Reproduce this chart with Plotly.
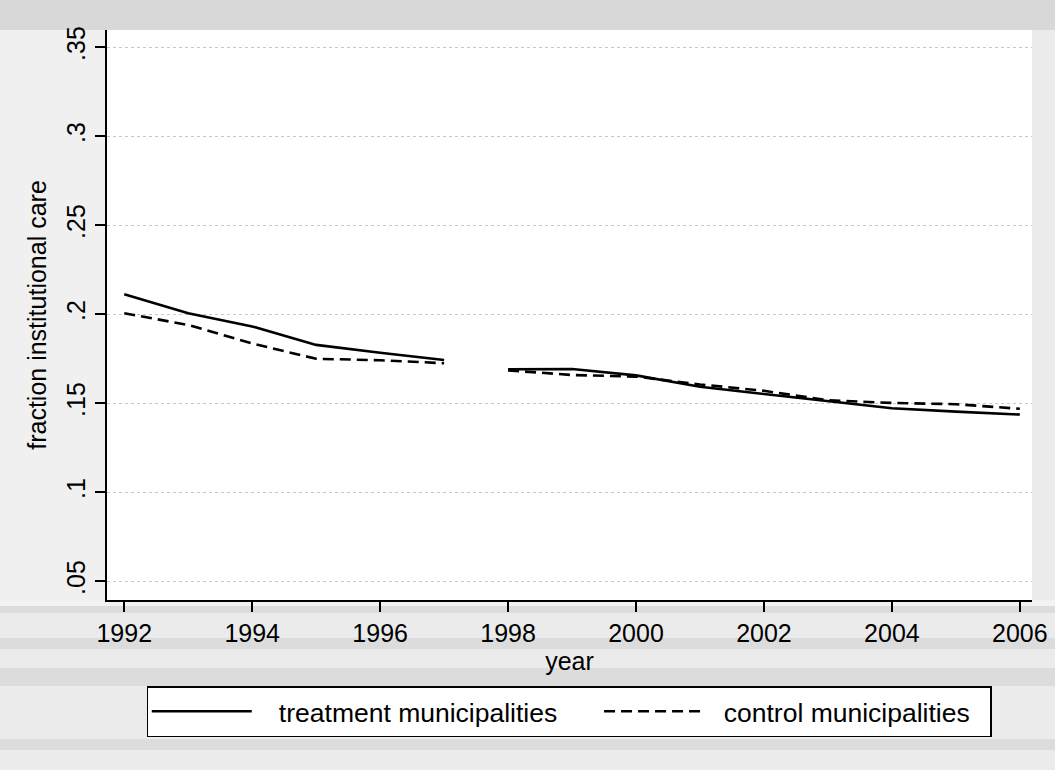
import plotly.graph_objects as go

# Data
years_p1 = [1992, 1993, 1994, 1995, 1996, 1997]
years_p2 = [1998, 1999, 2000, 2001, 2002, 2003, 2004, 2005, 2006]
treat_p1 = [0.2112, 0.2006, 0.1932, 0.1828, 0.1784, 0.1743]
treat_p2 = [0.1691, 0.1693, 0.1657, 0.1593, 0.1552, 0.1514, 0.1472, 0.1453, 0.1437]
ctrl_p1 = [0.2006, 0.1940, 0.1836, 0.1750, 0.1742, 0.1725]
ctrl_p2 = [0.1685, 0.1659, 0.1650, 0.1606, 0.1570, 0.1517, 0.1502, 0.1495, 0.1469]

x_ticks = [1992, 1994, 1996, 1998, 2000, 2002, 2004, 2006]
y_ticks = [0.05, 0.10, 0.15, 0.20, 0.25, 0.30, 0.35]
y_ticklabels = [".05", ".1", ".15", ".2", ".25", ".3", ".35"]

series_names = ["treatment municipalities", "control municipalities"]

FONT = "Liberation Sans, Arial, Helvetica, sans-serif"
NB = "\u00a0"

fig = go.Figure()
solid = dict(color="black", width=2.6)
dashed = dict(color="black", width=2.6, dash="11px,6px")

fig.add_trace(go.Scatter(x=years_p1, y=treat_p1, mode="lines", line=solid,
                         name=NB * 3 + series_names[0] + NB * 5, legendgroup="t"))
fig.add_trace(go.Scatter(x=years_p2, y=treat_p2, mode="lines", line=solid,
                         name=series_names[0], legendgroup="t", showlegend=False))
fig.add_trace(go.Scatter(x=years_p1, y=ctrl_p1, mode="lines", line=dashed,
                         name=NB * 2 + series_names[1] + NB * 2, legendgroup="c"))
fig.add_trace(go.Scatter(x=years_p2, y=ctrl_p2, mode="lines", line=dashed,
                         name=series_names[1], legendgroup="c", showlegend=False))

# background bands (Stata-like graph region)
bands = [(600, 606, "#f2f2f2"), (606, 613, "#dcdcdc"), (638, 649, "#dcdcdc"),
         (668, 686, "#dcdcdc"), (739, 750, "#dcdcdc")]
shapes = [dict(type="rect", xref="paper", yref="paper", x0=-0.2, x1=1.1,
               y0=1.0, y1=1.06, fillcolor="#d8d8d8", line=dict(width=0), layer="below"),
          dict(type="rect", xref="paper", yref="paper", x0=-0.2, x1=0.0,
               y0=0.0, y1=1.0, fillcolor="#f0f0f0", line=dict(width=0), layer="below")]
for top, bot, col in bands:
    shapes.append(dict(type="rect", xref="paper", yref="paper", x0=-0.2, x1=1.1,
                       y0=(600 - bot) / 570, y1=(600 - top) / 570,
                       fillcolor=col, line=dict(width=0), layer="below"))

fig.update_layout(
    width=1055, height=770,
    margin=dict(l=107, r=23, t=30, b=170, autoexpand=False),
    paper_bgcolor="#ebebeb",
    plot_bgcolor="white",
    font=dict(family=FONT, color="black"),
    shapes=shapes,
    showlegend=True,
    legend=dict(
        orientation="h",
        x=0.043, xanchor="left",
        y=-0.151, yanchor="top",
        bgcolor="white",
        bordercolor="black",
        borderwidth=1.5,
        font=dict(size=26.5, family=FONT, color="black"),
        itemwidth=100,
        tracegroupgap=0,
    ),
    xaxis=dict(
        range=[1991.73, 2006.19],
        tickvals=x_ticks,
        ticks="outside", ticklen=10, tickwidth=1.5, tickcolor="black",
        showline=True, linecolor="black", linewidth=2,
        showgrid=False, zeroline=False, automargin=False,
        tickfont=dict(size=25, family=FONT),
        title=dict(text="year", font=dict(size=25, family=FONT), standoff=6),
    ),
    yaxis=dict(
        range=[0.0395, 0.3597],
        tickvals=y_ticks, ticktext=y_ticklabels,
        tickangle=-90,
        ticks="outside", ticklen=10, tickwidth=1.5, tickcolor="black",
        showline=True, linecolor="black", linewidth=2,
        showgrid=True, gridcolor="#c8c8c8", gridwidth=1, griddash="dot",
        zeroline=False, automargin=False,
        tickfont=dict(size=25, family=FONT),
        title=dict(text="fraction institutional care", font=dict(size=25, family=FONT), standoff=8),
    ),
)

fig.write_html(
    "out.html",
    config={"displayModeBar": False},
    post_script="document.body.style.margin='0';document.body.style.background='#ebebeb';",
)
